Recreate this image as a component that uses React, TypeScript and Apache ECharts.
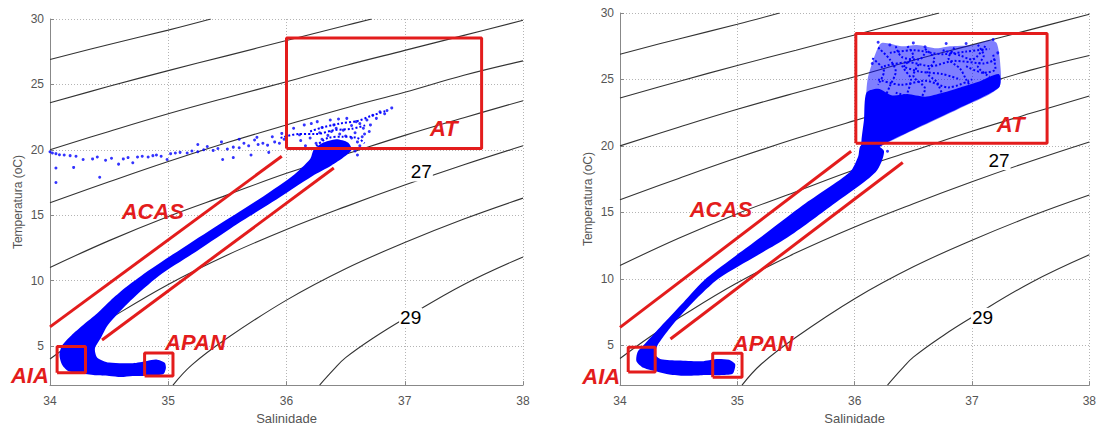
import { useEffect, useRef } from 'react';
import * as echarts from 'echarts';

// ---- isopycnals (sigma-t), points as [salinity, temperature] ----
const SIGMA_22 = [[34, 26.9], [34.5, 28.05], [35, 29.15], [35.36, 30]];
const SIGMA_23 = [[34, 23.6], [34.5, 24.85], [35, 26.05], [35.5, 27.2], [36, 28.35], [36.5, 29.5], [36.72, 30]];
const SIGMA_24 = [[34, 20.0], [34.5, 21.4], [35, 22.75], [35.5, 24.0], [36, 25.2], [36.5, 26.45], [37, 27.6], [37.5, 28.75], [38, 29.9]];
const SIGMA_25 = [[34, 15.95], [34.5, 17.55], [35, 19.1], [35.5, 20.55], [36, 21.9], [36.5, 23.2], [37, 24.4], [37.5, 25.7], [38, 26.8]];
const SIGMA_26 = [[34, 11.0], [34.5, 13.05], [35, 14.9], [35.5, 16.55], [36, 18.2], [36.5, 19.65], [37, 21.1], [37.5, 22.45], [38, 23.75]];
const SIGMA_27 = [[34, 4.0], [34.25, 5.6], [34.5, 7.05], [35, 9.7], [35.5, 11.95], [36, 13.9], [36.5, 15.65], [37, 17.3], [37.5, 18.85], [38, 20.3]];
const SIGMA_28 = [[35.04, 2], [35.2, 3.55], [35.5, 5.6], [36, 8.5], [36.5, 10.9], [37, 12.9], [37.5, 14.7], [38, 16.3]];
const SIGMA_29 = [[36.28, 2], [36.4, 3.2], [36.5, 4.1], [36.75, 5.7], [37, 7.1], [37.5, 9.7], [38, 11.8]];
const ISOPYCNALS = [SIGMA_22, SIGMA_23, SIGMA_24, SIGMA_25, SIGMA_26, SIGMA_27, SIGMA_28, SIGMA_29];

// ---- left diagram: water-column envelope ----
const LEFT_BAND = [
  [34.98, 3.3], [34.96, 2.85], [34.85, 2.72], [34.7, 2.7], [34.6, 2.62], [34.5, 2.7], [34.38, 2.75],
  [34.25, 2.9], [34.15, 3.1], [34.1, 3.6], [34.08, 4.3], [34.1, 5.0], [34.18, 5.8], [34.28, 6.6],
  [34.4, 7.5], [34.51, 8.45], [34.63, 9.4], [34.77, 10.35], [35.04, 12.0], [35.38, 14.0], [35.73, 16.0],
  [36.05, 18.0], [36.2, 19.3], [36.23, 20.0], [36.3, 20.5], [36.42, 20.8], [36.52, 20.55], [36.55, 20.0],
  [36.48, 19.4], [36.38, 18.8], [36.22, 18.0], [35.88, 16.0], [35.53, 14.0], [35.2, 12.0], [34.92, 10.35],
  [34.68, 8.45], [34.49, 6.6], [34.43, 5.6], [34.38, 4.8], [34.4, 4.1], [34.5, 3.72], [34.7, 3.68],
  [34.82, 3.85], [34.9, 3.95], [34.97, 3.7],
];

const LEFT_POINTS = [
  [34.0, 19.85], [34.02, 19.75], [34.05, 19.7], [34.08, 19.62], [34.12, 19.6], [34.17, 19.55], [34.22, 19.5],
  [34.05, 18.6], [34.05, 17.5], [34.2, 18.65], [34.28, 19.25], [34.36, 19.3], [34.42, 17.9], [34.4, 19.45],
  [34.47, 19.2], [34.52, 19.35], [34.58, 18.9], [34.62, 19.3], [34.66, 19.4], [34.7, 19.0], [34.74, 19.45],
  [34.78, 19.5], [34.83, 19.45], [34.87, 19.55], [34.9, 19.6], [34.94, 19.5], [34.99, 19.25], [35.02, 19.7],
  [35.06, 19.75], [35.1, 19.8], [35.16, 19.75], [35.2, 19.9], [35.25, 19.85], [35.3, 20.0], [35.33, 20.25],
  [35.38, 19.95], [35.42, 20.1], [35.46, 19.25], [35.5, 20.05], [35.55, 20.2], [35.6, 20.15], [35.64, 20.5],
  [35.68, 20.3], [35.73, 20.75], [35.76, 20.4], [35.8, 20.5], [35.84, 20.35], [35.88, 21.0], [35.9, 20.6],
  [35.94, 20.5], [35.96, 21.25], [35.98, 20.8], [35.55, 19.4], [35.7, 19.6], [35.85, 19.8], [35.25, 20.4],
  [35.45, 20.6], [35.6, 20.8], [35.75, 20.95], [36.0, 21.4], [36.06, 21.64], [36.11, 21.14], [36.15, 21.9],
  [36.21, 22.0], [36.26, 22.15], [36.37, 22.27], [36.44, 22.35], [36.51, 22.4], [36.59, 22.15], [36.68, 22.27],
  [36.73, 22.64], [36.76, 22.4], [36.79, 22.9], [36.85, 23.0], [36.89, 23.2], [36.83, 22.75], [36.65, 21.64],
  [36.71, 21.9], [36.62, 22.0], [36.55, 21.85], [36.4, 21.9], [36.3, 21.7], [36.7, 21.4], [36.66, 21.2],
  [36.25, 20.5], [36.3, 20.8], [36.35, 21.1], [36.45, 21.2], [36.5, 21.05], [36.55, 20.9], [36.6, 20.6],
  [36.62, 20.3], [36.2, 20.9], [36.28, 21.3], [36.38, 21.4], [36.48, 21.5], [36.58, 21.3], [36.64, 21.0],
  [36.58, 19.9], [36.6, 19.6], [36.42, 21.65], [36.12, 20.7], [36.16, 20.3],
];
const LEFT_TRACES = [
  [[36.2, 21.4], [36.3, 21.7], [36.45, 22.0], [36.6, 22.2], [36.72, 22.6], [36.85, 23.0]],
  [[35.95, 20.9], [36.1, 21.2], [36.25, 21.2], [36.4, 21.5], [36.55, 21.6], [36.68, 21.9]],
  [[36.25, 20.3], [36.35, 20.9], [36.48, 21.0], [36.6, 20.9], [36.66, 20.5]],
];

// ---- right diagram ----
const RIGHT_BAND = [
  [34.98, 3.3], [34.96, 2.85], [34.85, 2.75], [34.7, 2.75], [34.55, 2.7], [34.42, 2.8], [34.32, 3.0],
  [34.2, 3.3], [34.14, 3.8], [34.15, 4.5], [34.2, 5.0], [34.34, 6.34], [34.54, 8.21], [34.74, 10.07],
  [35.19, 13.06], [35.56, 15.55], [35.96, 18.04], [36.03, 19.2], [36.05, 20.0], [36.15, 20.2], [36.25, 19.6],
  [36.18, 18.04], [35.81, 15.55], [35.42, 13.06], [34.85, 10.07], [34.62, 8.21], [34.43, 6.34], [34.32, 5.0],
  [34.3, 4.3], [34.35, 3.95], [34.5, 3.85], [34.7, 3.8], [34.82, 3.97], [34.93, 3.9], [34.98, 3.6],
];
const RIGHT_FAN = [
  [36.05, 19.6], [36.07, 20.5], [36.09, 22.5], [36.11, 25.0], [36.18, 27.0], [36.23, 27.74], [36.4, 27.5],
  [36.53, 27.6], [36.7, 27.35], [36.81, 27.5], [37.0, 27.6], [37.15, 27.95], [37.21, 27.74], [37.24, 26.25],
  [37.23, 24.4], [36.89, 22.8], [36.53, 21.3], [36.25, 20.1], [36.15, 19.6],
];
const RIGHT_FAN_DENSE = [
  [36.06, 19.8], [36.08, 22.0], [36.1, 24.0], [36.2, 24.3], [36.32, 23.8], [36.45, 23.9], [36.6, 23.7],
  [36.75, 24.0], [36.9, 24.4], [37.05, 24.8], [37.23, 25.4], [37.23, 24.4], [36.89, 22.85], [36.53, 21.35],
  [36.25, 20.15], [36.15, 19.6],
];
const RIGHT_TRACES = [
  [[36.2, 27.4], [36.3, 26.5], [36.35, 25.6], [36.3, 24.5], [36.25, 23.5]],
  [[36.45, 27.5], [36.5, 26.8], [36.42, 25.9], [36.48, 25.0], [36.45, 24.0]],
  [[36.6, 27.3], [36.68, 26.5], [36.62, 25.5], [36.7, 24.8], [36.75, 23.8]],
  [[36.85, 27.4], [36.8, 26.6], [36.9, 25.8], [36.95, 25.0], [37.0, 24.3]],
  [[37.05, 27.6], [37.1, 26.8], [37.05, 26.0], [37.15, 25.2]],
  [[36.25, 26.0], [36.45, 26.3], [36.65, 26.0], [36.85, 26.4], [37.1, 26.2], [37.2, 26.5]],
  [[36.2, 25.0], [36.4, 24.6], [36.6, 24.9], [36.8, 24.4], [37.0, 25.0]],
  [[36.3, 27.0], [36.5, 27.2], [36.75, 26.9], [36.95, 27.1], [37.15, 27.3]],
  [[36.35, 24.0], [36.55, 23.6], [36.6, 24.3], [36.5, 25.3], [36.55, 26.2]],
  [[36.95, 26.0], [37.1, 25.5], [37.2, 25.8], [37.18, 26.9]],
  [[36.4, 26.0], [36.55, 25.6], [36.75, 25.4], [36.9, 25.0]],
  [[36.15, 26.6], [36.25, 25.6], [36.2, 24.6]],
  [[36.35, 27.5], [36.4, 26.7], [36.55, 26.5], [36.6, 27.0]],
  [[36.75, 27.2], [36.9, 26.8], [37.0, 26.5], [37.12, 27.6]],
];
const RIGHT_POINTS = [
  [36.3, 27.6], [36.6, 27.45], [36.95, 27.7], [37.18, 28.0], [36.2, 27.8], [36.15, 26.2], [36.14, 24.1],
  [37.22, 27.0], [36.78, 27.7], [36.5, 27.75], [36.2, 19.0], [36.28, 19.6], [36.12, 18.6],
];

// ---- water-mass annotations ----
const LEFT_BOXES = [
  [[36.0, 20.1], [37.65, 28.55]],
  [[34.06, 2.94], [34.3, 4.95]],
  [[34.8, 2.69], [35.04, 4.45]],
];
const RIGHT_BOXES = [
  [[36.01, 20.2], [37.64, 28.45]],
  [[34.07, 2.99], [34.3, 4.85]],
  [[34.79, 2.6], [35.04, 4.4]],
];
const LEFT_ACAS_LINES = [
  [[34, 6.45], [35.96, 19.5]],
  [[34.44, 5.45], [36.4, 18.6]],
];
const RIGHT_ACAS_LINES = [
  [[34, 6.34], [35.97, 19.6]],
  [[34.43, 5.47], [36.41, 18.75]],
];
const LEFT_MASS_LABELS = [
  { name: 'AT', value: [37.33, 21.6] },
  { name: 'ACAS', value: [34.87, 15.24] },
  { name: 'APAN', value: [35.23, 5.25] },
  { name: 'AIA', value: [33.83, 2.72] },
];
const RIGHT_MASS_LABELS = [
  { name: 'AT', value: [37.33, 21.6] },
  { name: 'ACAS', value: [34.86, 15.2] },
  { name: 'APAN', value: [35.22, 5.15] },
  { name: 'AIA', value: [33.84, 2.68] },
];
const LEFT_SIGMA_LABELS = [
  { name: '27', value: [37.14, 18.3] },
  { name: '29', value: [37.05, 7.2] },
];
const RIGHT_SIGMA_LABELS = [
  { name: '27', value: [37.23, 18.9] },
  { name: '29', value: [37.09, 7.1] },
];

const FONT = '"Liberation Sans", Arial, sans-serif';
const BLUE = '#0000ff';
const RED = '#e31c1c';

function polygonSeries(idx: number, pts: number[][], fill: string, z: number) {
  return {
    type: 'custom',
    xAxisIndex: idx,
    yAxisIndex: idx,
    silent: true,
    z,
    data: [pts[0]],
    renderItem: (_p: any, api: any) => ({
      type: 'polygon',
      shape: { points: pts.map((p) => api.coord(p)), smooth: 0.25 },
      style: { fill },
    }),
  };
}

function lineSeries(idx: number, data: number[][], lineStyle: any, z: number, smooth: number | boolean = false) {
  return {
    type: 'line',
    xAxisIndex: idx,
    yAxisIndex: idx,
    data,
    smooth,
    symbol: 'none',
    silent: true,
    clip: true,
    z,
    lineStyle,
  };
}

// text anchored at a [salinity, temperature] position
function textSeries(idx: number, items: { name: string; value: number[] }[], style: any) {
  return {
    type: 'custom',
    xAxisIndex: idx,
    yAxisIndex: idx,
    silent: true,
    clip: false,
    z: 10,
    data: items.map((d) => d.value),
    renderItem: (params: any, api: any) => {
      const [x, y] = api.coord([api.value(0), api.value(1)]);
      return {
        type: 'text',
        x,
        y,
        style: {
          text: items[params.dataIndex].name,
          fontFamily: FONT,
          align: 'center',
          verticalAlign: 'middle',
          ...style,
        },
      };
    },
  };
}

function panelSeries(
  idx: number,
  band: number[][],
  points: number[][],
  traces: number[][][],
  boxes: number[][][],
  acas: number[][][],
  massLabels: any[],
  sigmaLabels: any[],
  extraPolys: { pts: number[][]; fill: string }[],
) {
  const s: any[] = [];
  ISOPYCNALS.forEach((iso) => s.push(lineSeries(idx, iso, { color: '#333', width: 1.1 }, 1, 0.4)));
  s.push(polygonSeries(idx, band, BLUE, 3));
  extraPolys.forEach((p) => s.push(polygonSeries(idx, p.pts, p.fill, 3)));
  traces.forEach((t) => s.push(lineSeries(idx, t, { color: BLUE, width: 2, type: [2, 2] }, 4, 0.3)));
  s.push({
    type: 'scatter',
    xAxisIndex: idx,
    yAxisIndex: idx,
    data: points,
    symbolSize: 3,
    silent: true,
    z: 4,
    itemStyle: { color: BLUE },
  });
  boxes.forEach(([a, b]) =>
    s.push(
      lineSeries(idx, [[a[0], a[1]], [b[0], a[1]], [b[0], b[1]], [a[0], b[1]], [a[0], a[1]]], { color: RED, width: 3 }, 6),
    ),
  );
  acas.forEach((l) => s.push(lineSeries(idx, l, { color: RED, width: 3 }, 6)));
  s.push(textSeries(idx, massLabels, { fill: RED, fontSize: 22, fontWeight: 'bold', fontStyle: 'italic' }));
  s.push(textSeries(idx, sigmaLabels, { fill: '#000', fontSize: 19, backgroundColor: '#fff', padding: [0, 1] }));
  return s;
}

function xAxis(idx: number) {
  return {
    gridIndex: idx,
    type: 'value',
    min: 34,
    max: 38,
    interval: 1,
    name: 'Salinidade',
    nameLocation: 'middle',
    nameGap: 26,
    nameTextStyle: { color: '#555', fontSize: 13, fontFamily: FONT },
    axisLine: { show: true, onZero: false, lineStyle: { color: '#888', width: 1 } },
    axisTick: { show: true, inside: true, length: 4, lineStyle: { color: '#888' } },
    axisLabel: { color: '#555', fontSize: 12, margin: 10, fontFamily: FONT },
    splitLine: { show: true, lineStyle: { color: '#b4b4b4', width: 1, type: [1, 2] } },
  };
}

function yAxis(idx: number) {
  return {
    gridIndex: idx,
    type: 'value',
    min: 2,
    max: 30,
    splitNumber: 6,
    name: 'Temperatura (oC)',
    nameLocation: 'middle',
    nameGap: 26,
    nameTextStyle: { color: '#555', fontSize: 12, fontFamily: FONT },
    axisLine: { show: true, onZero: false, lineStyle: { color: '#888', width: 1 } },
    axisTick: { show: true, inside: true, length: 4, lineStyle: { color: '#888' } },
    axisLabel: {
      color: '#555',
      fontSize: 12,
      margin: 6,
      fontFamily: FONT,
      showMinLabel: false,
      formatter: (v: number) => (v % 5 === 0 ? String(v) : ''),
    },
    splitLine: { show: true, lineStyle: { color: '#b4b4b4', width: 1, type: [1, 2] } },
  };
}

export default function App() {
  const ref = useRef<HTMLDivElement>(null);
  useEffect(() => {
    if (!ref.current) return;
    const chart = echarts.init(ref.current, undefined, { renderer: 'svg' });
    chart.setOption({
      animation: false,
      backgroundColor: '#fff',
      grid: [
        { left: 50, top: 19, width: 473, height: 371 },
        { left: 620, top: 13, width: 470, height: 375 },
      ],
      xAxis: [xAxis(0), xAxis(1)],
      yAxis: [yAxis(0), yAxis(1)],
      series: [
        ...panelSeries(0, LEFT_BAND, LEFT_POINTS, LEFT_TRACES, LEFT_BOXES, LEFT_ACAS_LINES, LEFT_MASS_LABELS, LEFT_SIGMA_LABELS, []),
        ...panelSeries(1, RIGHT_BAND, RIGHT_POINTS, RIGHT_TRACES, RIGHT_BOXES, RIGHT_ACAS_LINES, RIGHT_MASS_LABELS, RIGHT_SIGMA_LABELS, [
          { pts: RIGHT_FAN, fill: 'rgba(0,0,255,0.5)' },
          { pts: RIGHT_FAN_DENSE, fill: BLUE },
        ]),
      ],
    });
    return () => chart.dispose();
  }, []);
  return (
    <div
      ref={ref}
      style={{ position: 'absolute', left: 0, top: 0, width: 1099, height: 430, background: '#fff' }}
    />
  );
}
